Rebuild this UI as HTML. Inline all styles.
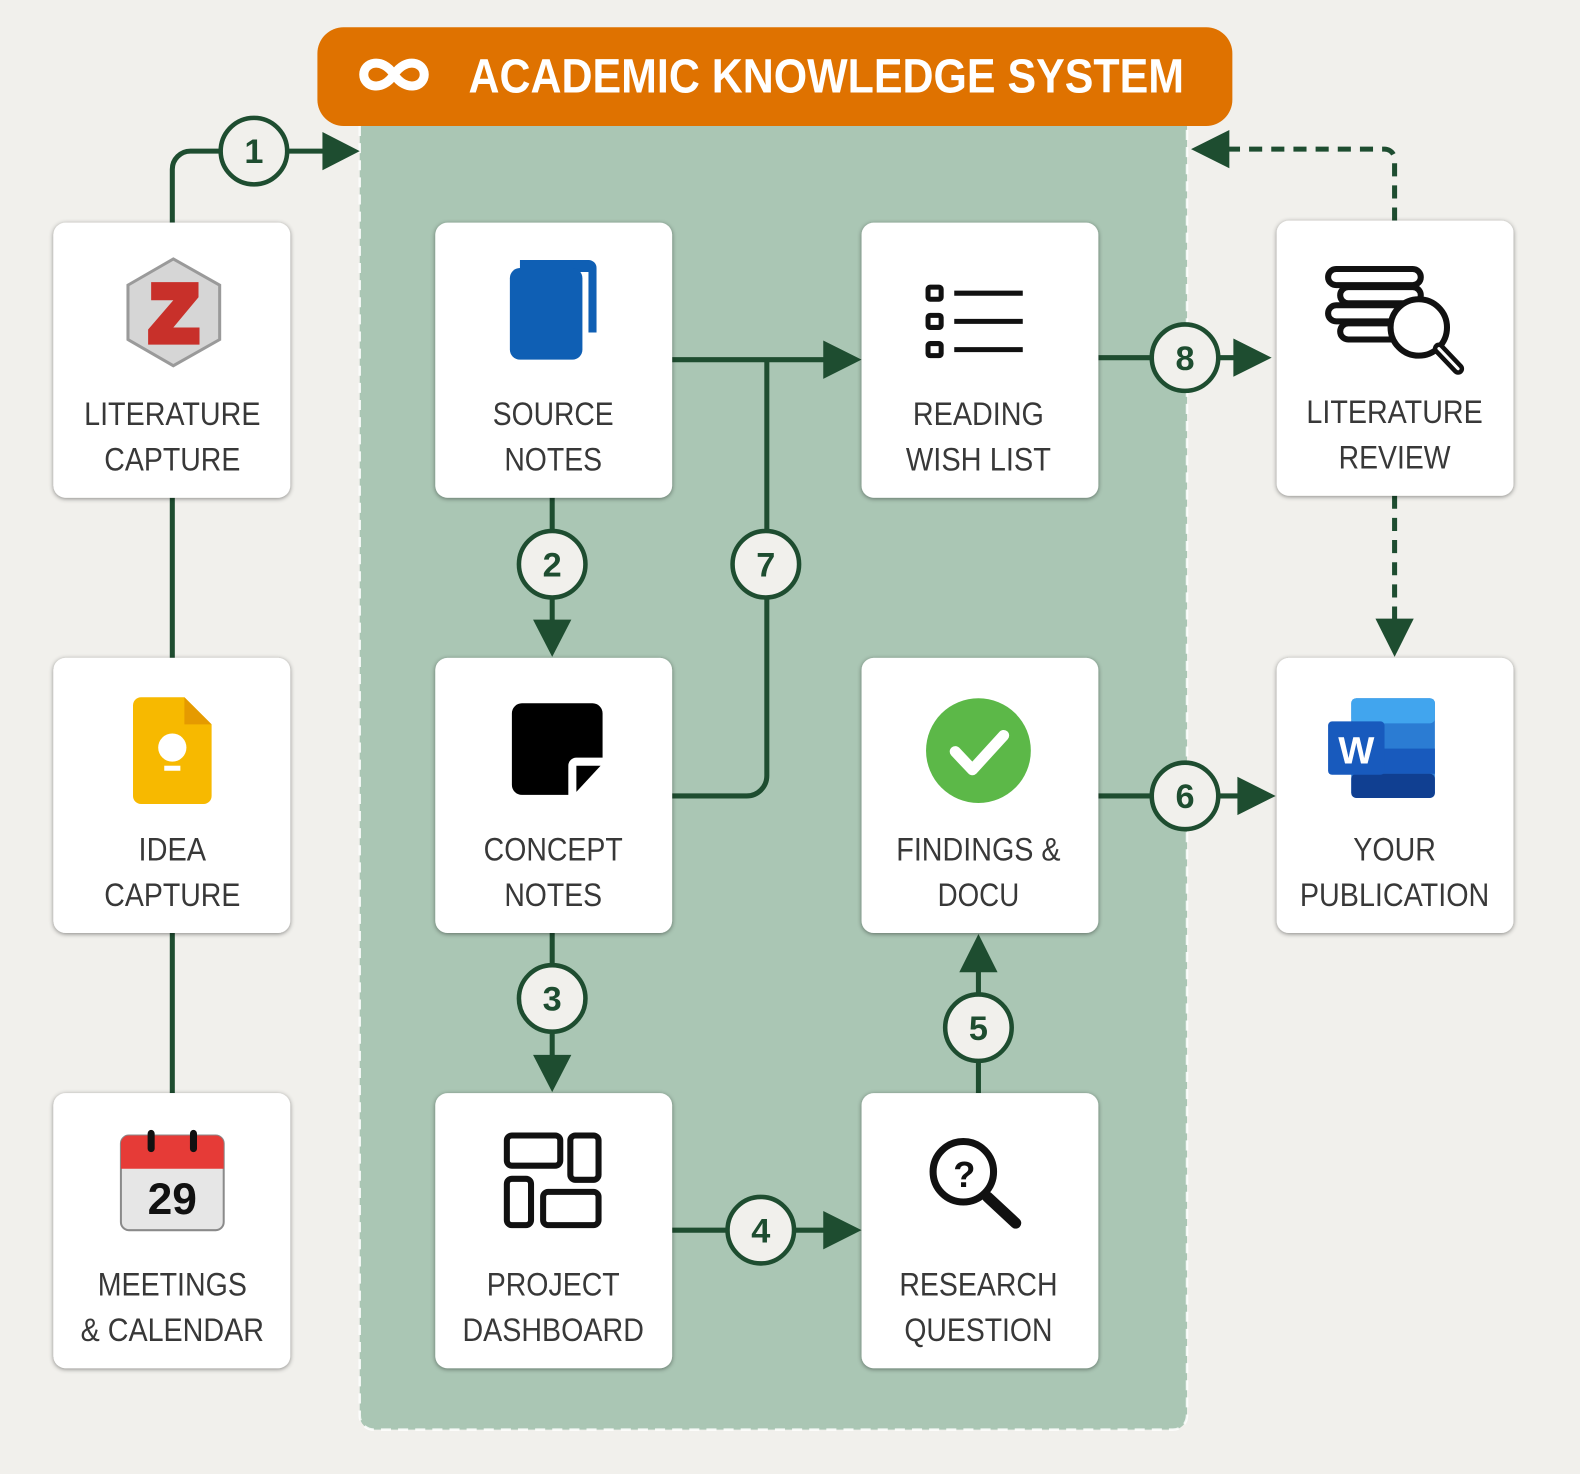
<!DOCTYPE html>
<html><head><meta charset="utf-8"><style>
html,body{margin:0;padding:0;background:#F1F0EC;}
svg{display:block;}
.lbl{font-family:"Liberation Sans Narrow","Liberation Sans",sans-serif;font-size:32px;fill:#383838;text-anchor:middle;}
.num{font-family:"Liberation Sans Narrow","Liberation Sans",sans-serif;font-size:34px;font-weight:bold;fill:#1E4D30;text-anchor:middle;}
</style></head><body>
<svg width="1580" height="1474" viewBox="0 0 1568 1463" preserveAspectRatio="none" xmlns="http://www.w3.org/2000/svg">
<defs>
<filter id="sh" x="-10%" y="-10%" width="120%" height="120%"><feDropShadow dx="0" dy="1" stdDeviation="2.5" flood-color="#000" flood-opacity="0.45"/></filter>
</defs>
<rect width="1568" height="1463" fill="#F1F0EC"/>
<!-- green panel -->
<path d="M357 110 V1405 a14 14 0 0 0 14 14 H1164 a14 14 0 0 0 14 -14 V110 Z" fill="#AAC6B4"/>
<path d="M357 125 V1405 a14 14 0 0 0 14 14 H1164 a14 14 0 0 0 14 -14 V125" fill="none" stroke="#fff" stroke-width="2.5" stroke-dasharray="10 7" opacity="0.85"/>
<!-- header -->
<rect x="315" y="27" width="908" height="98" rx="26" fill="#DF7200"/>
<path d="M372 74 c-12 -18 -30 -12 -30 0 c0 12 18 18 30 0 c12 -18 30 -12 30 0 c0 12 -18 18 -30 0 z" fill="none" stroke="#fff" stroke-width="9" transform="translate(19,0)"/>
<text x="465" y="92" textLength="710" lengthAdjust="spacingAndGlyphs" font-family="Liberation Sans Narrow, Liberation Sans, sans-serif" font-weight="bold" font-size="48" fill="#fff">ACADEMIC KNOWLEDGE SYSTEM</text>

<!-- connectors -->
<g stroke="#1E4D30" stroke-width="5" fill="none">
<path d="M171 221 V168 a18 18 0 0 1 18 -18 H325"/>
<path d="M171 494 V653"/><path d="M171 926 V1085"/>
<path d="M667 357 H820"/>
<path d="M761 357 V770 a20 20 0 0 1 -20 20 H667"/>
<path d="M548 494 V618"/>
<path d="M548 926 V1050"/>
<path d="M667 1221 H820"/>
<path d="M971 1085 V962"/>
<path d="M1090 790 H1232"/>
<path d="M1090 355 H1226"/>
<path d="M1384 219 V158 a10 10 0 0 0 -10 -10 H1218" stroke-dasharray="13 9"/>
<path d="M1384 492 V616" stroke-dasharray="13 9"/>
</g>
<g fill="#1E4D30">
<path d="M357 150 L320 131 V169 Z"/>
<path d="M855 357 L817 338 V376 Z"/>
<path d="M548 652 L529 615 H567 Z"/>
<path d="M548 1084 L529 1047 H567 Z"/>
<path d="M855 1221 L817 1202 V1240 Z"/>
<path d="M971 927 L952 965 H990 Z"/>
<path d="M1266 790 L1228 771 V809 Z"/>
<path d="M1262 355 L1224 336 V374 Z"/>
<path d="M1182 148 L1220 129 V167 Z"/>
<path d="M1384 652 L1365 614 H1403 Z"/>
</g>
<!-- number circles -->
<g stroke="#1E4D30" stroke-width="4.5" fill="#F1F0EC">
<circle cx="252" cy="150" r="33"/>
<circle cx="548" cy="560" r="33"/>
<circle cx="760" cy="560" r="33"/>
<circle cx="548" cy="991" r="33"/>
<circle cx="755" cy="1221" r="33"/>
<circle cx="971" cy="1020" r="33"/>
<circle cx="1176" cy="790" r="33"/>
<circle cx="1176" cy="355" r="33"/>
</g>
<g class="num">
<text x="252" y="162" class="num">1</text>
<text x="548" y="572" class="num">2</text>
<text x="760" y="572" class="num">7</text>
<text x="548" y="1003" class="num">3</text>
<text x="755" y="1233" class="num">4</text>
<text x="971" y="1032" class="num">5</text>
<text x="1176" y="802" class="num">6</text>
<text x="1176" y="367" class="num">8</text>
</g>

<!-- cards -->
<g fill="#fff" filter="url(#sh)">
<rect x="53" y="221" width="235" height="273" rx="12"/>
<rect x="53" y="653" width="235" height="273" rx="12"/>
<rect x="53" y="1085" width="235" height="273" rx="12"/>
<rect x="432" y="221" width="235" height="273" rx="12"/>
<rect x="432" y="653" width="235" height="273" rx="12"/>
<rect x="432" y="1085" width="235" height="273" rx="12"/>
<rect x="855" y="221" width="235" height="273" rx="12"/>
<rect x="855" y="653" width="235" height="273" rx="12"/>
<rect x="855" y="1085" width="235" height="273" rx="12"/>
<rect x="1267" y="219" width="235" height="273" rx="12"/>
<rect x="1267" y="653" width="235" height="273" rx="12"/>
</g>

<!-- labels -->
<text class="lbl" x="171" y="422" textLength="175" lengthAdjust="spacingAndGlyphs">LITERATURE</text>
<text class="lbl" x="171" y="467" textLength="135" lengthAdjust="spacingAndGlyphs">CAPTURE</text>
<text class="lbl" x="171" y="854" textLength="67" lengthAdjust="spacingAndGlyphs">IDEA</text>
<text class="lbl" x="171" y="899" textLength="135" lengthAdjust="spacingAndGlyphs">CAPTURE</text>
<text class="lbl" x="171" y="1286" textLength="148" lengthAdjust="spacingAndGlyphs">MEETINGS</text>
<text class="lbl" x="171" y="1331" textLength="182" lengthAdjust="spacingAndGlyphs">&amp; CALENDAR</text>
<text class="lbl" x="549" y="422" textLength="120" lengthAdjust="spacingAndGlyphs">SOURCE</text>
<text class="lbl" x="549" y="467" textLength="97" lengthAdjust="spacingAndGlyphs">NOTES</text>
<text class="lbl" x="549" y="854" textLength="138" lengthAdjust="spacingAndGlyphs">CONCEPT</text>
<text class="lbl" x="549" y="899" textLength="97" lengthAdjust="spacingAndGlyphs">NOTES</text>
<text class="lbl" x="549" y="1286" textLength="132" lengthAdjust="spacingAndGlyphs">PROJECT</text>
<text class="lbl" x="549" y="1331" textLength="180" lengthAdjust="spacingAndGlyphs">DASHBOARD</text>
<text class="lbl" x="971" y="422" textLength="130" lengthAdjust="spacingAndGlyphs">READING</text>
<text class="lbl" x="971" y="467" textLength="144" lengthAdjust="spacingAndGlyphs">WISH LIST</text>
<text class="lbl" x="971" y="854" textLength="163" lengthAdjust="spacingAndGlyphs">FINDINGS &amp;</text>
<text class="lbl" x="971" y="899" textLength="81" lengthAdjust="spacingAndGlyphs">DOCU</text>
<text class="lbl" x="971" y="1286" textLength="157" lengthAdjust="spacingAndGlyphs">RESEARCH</text>
<text class="lbl" x="971" y="1331" textLength="147" lengthAdjust="spacingAndGlyphs">QUESTION</text>
<text class="lbl" x="1384" y="420" textLength="175" lengthAdjust="spacingAndGlyphs">LITERATURE</text>
<text class="lbl" x="1384" y="465" textLength="111" lengthAdjust="spacingAndGlyphs">REVIEW</text>
<text class="lbl" x="1384" y="854" textLength="82" lengthAdjust="spacingAndGlyphs">YOUR</text>
<text class="lbl" x="1384" y="899" textLength="188" lengthAdjust="spacingAndGlyphs">PUBLICATION</text>

<!-- icons -->
<!-- zotero -->
<polygon points="172,257 218,283 218,337 172,363 127,337 127,283" fill="#d6d6d6" stroke="#9a9a9a" stroke-width="3"/>
<path d="M150 280 H197 V295 L172 325 H198 V342 H147 V327 L172 298 H150 Z" fill="#c8302a"/>
<!-- book -->
<path d="M516 258 H584 a8 8 0 0 1 8 8 V330 H584 V270 H516 Z" fill="#0f5fb4"/>
<rect x="506" y="266" width="72" height="91" rx="10" fill="#0f5fb4"/>
<!-- list -->
<g stroke="#111" stroke-width="5" fill="none">
<rect x="921" y="285" width="13" height="12" rx="2"/><rect x="921" y="313" width="13" height="12" rx="2"/><rect x="921" y="341" width="13" height="12" rx="2"/>
<path d="M947 291 H1015 M947 319 H1015 M947 347 H1015"/>
</g>
<!-- lit review books -->
<g stroke="#111" stroke-width="6" fill="none">
<rect x="1318" y="267" width="92" height="16" rx="8"/>
<rect x="1330" y="285" width="80" height="16" rx="8"/>
<rect x="1318" y="303" width="92" height="16" rx="8"/>
<rect x="1330" y="321" width="80" height="16" rx="8"/>
<circle cx="1408" cy="325" r="28" fill="#fff"/>
<path d="M1428 346 L1447 366" stroke-width="12" stroke-linecap="round"/>
</g>
<path d="M1428 346 L1447 366" stroke="#fff" stroke-width="3" stroke-linecap="round"/>
<!-- keep -->
<path d="M140 692 H183 L210 719 V790 a8 8 0 0 1 -8 8 H140 a8 8 0 0 1 -8 -8 V700 a8 8 0 0 1 8 -8 Z" fill="#f7b900"/>
<path d="M183 692 L210 719 H183 Z" fill="#e59a00"/>
<circle cx="171" cy="742" r="14" fill="#fff"/><rect x="163" y="760" width="16" height="5" fill="#fff"/>
<!-- sticky note -->
<path d="M518 698 H588 a10 10 0 0 1 10 10 V752 H572 a8 8 0 0 0 -8 8 V789 H518 a10 10 0 0 1 -10 -10 V708 a10 10 0 0 1 10 -10 Z" fill="#000"/>
<path d="M572 760 H596 L572 786 Z" fill="#000"/>
<!-- check -->
<circle cx="971" cy="745" r="52" fill="#5cb848"/>
<path d="M948 746 L965 764 L996 730" stroke="#fff" stroke-width="11" fill="none" stroke-linecap="round" stroke-linejoin="round"/>
<!-- word -->
<rect x="1341" y="693" width="83" height="99" rx="5" fill="#2b7cd3"/>
<rect x="1341" y="693" width="83" height="25" rx="5" fill="#41a5ee"/>
<rect x="1341" y="743" width="83" height="25" fill="#185abd"/>
<rect x="1341" y="768" width="83" height="24" rx="5" fill="#103f91"/>
<rect x="1318" y="716" width="56" height="53" rx="4" fill="#185abd"/>
<text x="1346" y="758" font-family="Liberation Sans, sans-serif" font-weight="bold" font-size="38" fill="#fff" text-anchor="middle">W</text>
<!-- calendar -->
<rect x="120" y="1127" width="102" height="94" rx="8" fill="#e6e6e6" stroke="#8a8a8a" stroke-width="2"/>
<path d="M120 1160 V1135 a8 8 0 0 1 8 -8 H214 a8 8 0 0 1 8 8 V1160 Z" fill="#e63b37"/>
<g stroke="#111" stroke-width="7" stroke-linecap="round"><path d="M150 1125 V1140 M192 1125 V1140"/></g>
<text x="171" y="1205" font-family="Liberation Sans, sans-serif" font-weight="bold" font-size="44" fill="#111" text-anchor="middle">29</text>
<!-- dashboard -->
<g stroke="#111" stroke-width="6" fill="none">
<rect x="503" y="1127" width="53" height="30" rx="5"/>
<rect x="566" y="1127" width="28" height="44" rx="5"/>
<rect x="503" y="1170" width="24" height="46" rx="5"/>
<rect x="539" y="1183" width="55" height="33" rx="5"/>
</g>
<!-- research question -->
<circle cx="956" cy="1163" r="30" fill="none" stroke="#111" stroke-width="7"/>
<text x="957" y="1178" font-family="Liberation Sans, sans-serif" font-weight="bold" font-size="36" fill="#111" text-anchor="middle">?</text>
<path d="M980 1188 L1008 1214" stroke="#111" stroke-width="11" stroke-linecap="round"/>
</svg>
</body></html>
